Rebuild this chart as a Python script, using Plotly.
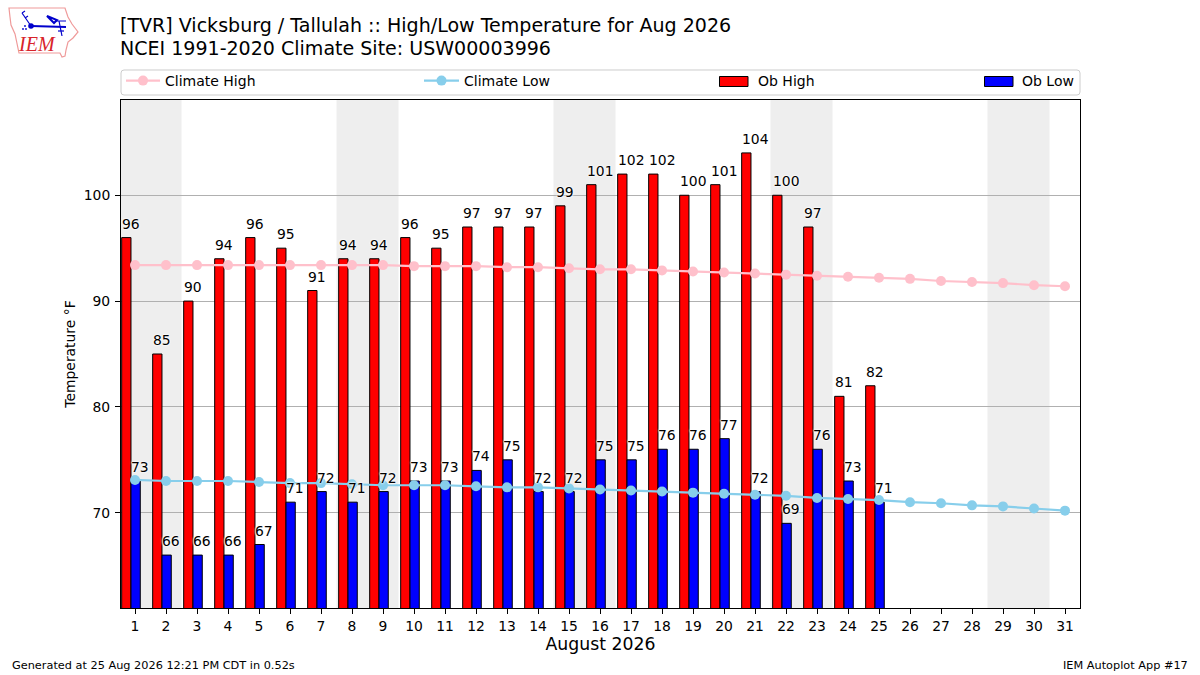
"""August high/low temperatures against the climatology at Vicksburg / Tallulah."""

import plotly.graph_objects as go

FONT = "DejaVu Sans"
OUT = "out.html"

# plot area, in picture pixels
LEFT, RIGHT, TOP, BOTTOM = 121, 1080, 100, 608

days = list(range(1, 32))
ob_days = days[:25]
ob_high = [96, 85, 90, 94, 96, 95, 91, 94, 94, 96, 95, 97, 97, 97, 99, 101, 102, 102,
           100, 101, 104, 100, 97, 81, 82]
ob_low = [73, 66, 66, 66, 67, 71, 72, 71, 72, 73, 73, 74, 75, 72, 72, 75, 75, 76,
          76, 77, 72, 69, 76, 73, 71]
climate_high = [93.4, 93.4, 93.4, 93.4, 93.4, 93.4, 93.4, 93.4, 93.4, 93.3, 93.3, 93.3,
                93.2, 93.2, 93.1, 93.0, 93.0, 92.9, 92.8, 92.7, 92.6, 92.5, 92.4, 92.3,
                92.2, 92.1, 91.9, 91.8, 91.7, 91.5, 91.4]
climate_low = [73.1, 73.0, 73.0, 73.0, 72.9, 72.8, 72.8, 72.7, 72.6, 72.6, 72.6, 72.5,
               72.4, 72.4, 72.3, 72.2, 72.1, 72.0, 71.9, 71.8, 71.7, 71.6, 71.4, 71.3,
               71.2, 71.0, 70.9, 70.7, 70.6, 70.4, 70.2]
weekend_starts = [0.5, 7.5, 14.5, 21.5, 28.5]
y_ticks = [70, 80, 90, 100]

BAR_WIDTH = 0.3
HIGH_OFFSET = -0.43
LOW_OFFSET = -0.13


def px(x):
    return (x - LEFT) / (RIGHT - LEFT)


def py(y):
    return (BOTTOM - y) / (BOTTOM - TOP)


def path(points, close=False):
    d = "M" + " L".join(f"{px(x):.5f},{py(y):.5f}" for x, y in points)
    return d + (" Z" if close else "")


def logo_line(points, color, width, close=False):
    return dict(type="path", xref="paper", yref="paper", path=path(points, close),
                line=dict(color=color, width=width), layer="above")


def logo_dot(x, y, r, color):
    return dict(type="circle", xref="paper", yref="paper", x0=px(x - r), x1=px(x + r),
                y0=py(y + r), y1=py(y - r), fillcolor=color, line=dict(width=0), layer="above")


def legend_box(x0, x1, y0, y1, r=3):
    return (f"M{px(x0 + r):.5f},{py(y0):.5f} L{px(x1 - r):.5f},{py(y0):.5f} "
            f"Q{px(x1):.5f},{py(y0):.5f} {px(x1):.5f},{py(y0 + r):.5f} "
            f"L{px(x1):.5f},{py(y1 - r):.5f} Q{px(x1):.5f},{py(y1):.5f} {px(x1 - r):.5f},{py(y1):.5f} "
            f"L{px(x0 + r):.5f},{py(y1):.5f} Q{px(x0):.5f},{py(y1):.5f} {px(x0):.5f},{py(y1 - r):.5f} "
            f"L{px(x0):.5f},{py(y0 + r):.5f} Q{px(x0):.5f},{py(y0):.5f} {px(x0 + r):.5f},{py(y0):.5f} Z")


def text_at(x, y, text, size, anchor="left", color="black", family=FONT):
    return dict(xref="paper", yref="paper", x=px(x), y=py(y), xanchor=anchor, yanchor="middle",
                showarrow=False, text=text, font=dict(family=family, size=size, color=color))


fig = go.Figure()
fig.add_trace(go.Bar(x=ob_days, y=ob_high, name="Ob High", width=BAR_WIDTH, offset=HIGH_OFFSET,
                     marker=dict(color="#ff0000", line=dict(color="black", width=1)),
                     showlegend=False))
fig.add_trace(go.Bar(x=ob_days, y=ob_low, name="Ob Low", width=BAR_WIDTH, offset=LOW_OFFSET,
                     marker=dict(color="#0000ff", line=dict(color="black", width=1)),
                     showlegend=False))
fig.add_trace(go.Scatter(x=days, y=climate_high, name="Climate High", mode="lines+markers",
                         line=dict(color="#ffc0cb", width=2.2), marker=dict(color="#ffc0cb", size=10),
                         legend="legend", showlegend=True))
fig.add_trace(go.Scatter(x=days, y=climate_low, name="Climate Low", mode="lines+markers",
                         line=dict(color="#87ceeb", width=2.2), marker=dict(color="#87ceeb", size=10),
                         legend="legend2", showlegend=True))

# ---- value labels, left aligned on each bar
annotations = []
for values, offset in ((ob_high, HIGH_OFFSET), (ob_low, LOW_OFFSET)):
    for d, v in zip(ob_days, values):
        annotations.append(dict(x=d + offset, y=v, text=str(v), showarrow=False,
                                xanchor="left", yanchor="bottom", yshift=4, xshift=-2,
                                font=dict(family=FONT, size=13.9, color="black",
                                          shadow="white 0 0 2px, white 0 0 2px, white 0 0 3px")))

# ---- page texts
annotations += [
    text_at(118, 25, "[TVR] Vicksburg / Tallulah :: High/Low Temperature for Aug 2026", 19.05),
    text_at(118, 48, "NCEI 1991-2020 Climate Site: USW00003996", 19.05),
    text_at(10, 665, "Generated at 25 Aug 2026 12:21 PM CDT in 0.52s", 11.3),
    text_at(1190, 665, "IEM Autoplot App #17", 11.3, anchor="right"),
    text_at(37, 44, "<i>IEM</i>", 20, anchor="center", color="#d8232a", family="Liberation Serif"),
    # bar keys: plotly only draws a small square for bars, the reference key is wider
    text_at(756, 81, "Ob High", 14),
    text_at(1020, 81, "Ob Low", 14),
]

shapes = [dict(type="rect", xref="x", yref="paper", x0=s, x1=s + 2, y0=0, y1=1,
               fillcolor="#eeeeee", line=dict(width=0), layer="between")
          for s in weekend_starts]
shapes.append(dict(type="path", xref="paper", yref="paper", path=legend_box(121, 1080, 70, 95),
                   line=dict(color="#cccccc", width=1), fillcolor="white", layer="below"))
for x0, color in ((719.5, "#ff0000"), (984.5, "#0000ff")):
    shapes.append(dict(type="rect", xref="paper", yref="paper", x0=px(x0), x1=px(x0 + 28.5),
                       y0=py(86.5), y1=py(76.5), fillcolor=color,
                       line=dict(color="black", width=1), layer="above"))

# ---- logo: state outline and station model
shapes += [
    logo_line([(9, 8), (65, 8), (68, 17), (72, 24), (78, 32), (73, 38), (68, 42), (66, 50),
               (65, 56), (62, 57), (60, 53), (19, 53), (15, 34), (11, 25), (10, 17)],
              "#ef9a9a", 1.2, close=True),
    logo_line([(31, 26), (66, 27)], "#0000cc", 2),
    logo_line([(31, 26), (22, 13)], "#0000cc", 1.2),
    logo_line([(22, 13), (25, 11)], "#0000cc", 1.2),
    logo_line([(25, 18), (28, 16)], "#0000cc", 1.2),
    logo_line([(47, 16), (57, 20), (54, 23)], "#0000cc", 2, close=True),
    logo_line([(55, 21), (66, 21)], "#0000cc", 1),
    logo_line([(59, 21), (62, 36)], "#0000cc", 1.2),
    logo_line([(58, 31), (64, 31)], "#0000cc", 1.2),
    logo_dot(31, 26, 2.8, "#0000cc"),
    logo_dot(25, 26, 0.9, "#0000cc"),
    logo_dot(23, 29, 0.9, "#0000cc"),
    logo_dot(26, 29, 0.9, "#0000cc"),
]


def entry(x, itemwidth):
    return dict(x=px(x), y=py(81), xanchor="left", yanchor="middle", orientation="h",
                bgcolor="rgba(0,0,0,0)", borderwidth=0, itemclick=False, itemwidth=itemwidth,
                font=dict(family=FONT, size=14, color="black"))


fig.update_layout(
    width=1200, height=675, autosize=False,
    margin=dict(l=LEFT, r=1200 - RIGHT, t=TOP, b=675 - BOTTOM),
    paper_bgcolor="white", plot_bgcolor="white",
    font=dict(family=FONT, color="black", size=13.9),
    barmode="overlay",
    legend=entry(121, 34), legend2=entry(419, 35),
    annotations=annotations, shapes=shapes,
    xaxis=dict(range=[0.548, 31.484], tickmode="array", tickvals=days, ticks="outside", ticklen=5,
               tickcolor="black", showgrid=False, zeroline=False, showline=True, mirror=True,
               linecolor="black", linewidth=1,
               title=dict(text="August 2026", standoff=4, font=dict(family=FONT, size=17.3))),
    yaxis=dict(range=[61, 109], tickmode="array", tickvals=y_ticks, ticks="outside", ticklen=5,
               ticklabelstandoff=2, tickcolor="black", showgrid=True, gridcolor="#b0b0b0",
               gridwidth=1, zeroline=False, showline=True, mirror=True, linecolor="black",
               linewidth=1,
               title=dict(text="Temperature °F", standoff=4, font=dict(family=FONT, size=13.9))),
)

# the page's default body margin would push the figure 8px off
fig.write_html(OUT, post_script="document.body.style.margin = '0';",
               config={"displayModeBar": False})
